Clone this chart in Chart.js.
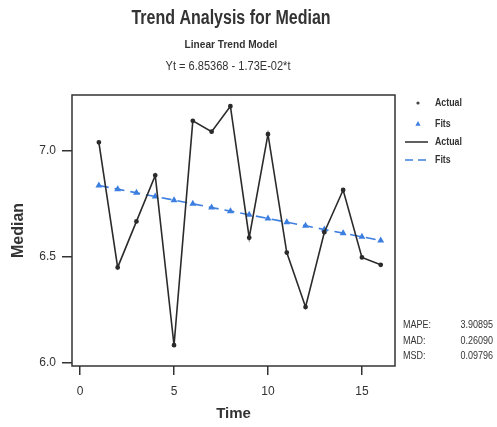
<!DOCTYPE html>
<html>
<head>
<meta charset="utf-8">
<script src="https://cdn.jsdelivr.net/npm/chart.js@4/dist/chart.umd.min.js"></script>
<style>
  html, body { margin: 0; padding: 0; background: #fff; }
  #wrap { width: 497px; height: 427px; position: relative; }
</style>
</head>
<body>
<div id="wrap"><canvas id="trend"></canvas></div>
<script>
// time index and observed medians
const times = [1, 2, 3, 4, 5, 6, 7, 8, 9, 10, 11, 12, 13, 14, 15, 16];
const actual = [7.04, 6.45, 6.667, 6.884, 6.083, 7.141, 7.09, 7.21, 6.59, 7.078, 6.52, 6.263, 6.616, 6.815, 6.497, 6.462];
// fitted values of Yt = 6.85368 - 1.73E-02*t
const fits = [6.83638, 6.81908, 6.80178, 6.78448, 6.76718, 6.74988, 6.73258, 6.71528,
              6.69798, 6.68068, 6.66338, 6.64608, 6.62878, 6.61148, 6.59418, 6.57688];

const xTicks = [0, 5, 10, 15];
const yTicks = [6.0, 6.5, 7.0];

const titleLines = ["Trend Analysis for Median", "Linear Trend Model", "Yt = 6.85368 - 1.73E-02*t"];
const legendLabels = ["Actual", "Fits", "Actual", "Fits"];
const statNames = ["MAPE:", "MAD:", "MSD:"];
const statValues = ["3.90895", "0.26090", "0.09796"];

const FONT = '"Liberation Sans", Arial, sans-serif';
const INK = "#2b2b2b";
const BLUE = "#3d7fe0";

const pairs = (ys) => times.map((t, i) => ({ x: t, y: ys[i] }));

// narrow text: squeeze horizontally around the anchor point
function narrowText(ctx, text, x, y, squeeze) {
  ctx.save();
  ctx.translate(x, y);
  ctx.scale(squeeze, 1);
  ctx.fillText(text, 0, 0);
  ctx.restore();
}

// header, frame, legend box and accuracy measures
const decorations = {
  id: "decorations",
  afterDraw(chart) {
    const ctx = chart.ctx;
    const a = chart.chartArea;
    ctx.save();

    ctx.strokeStyle = "#333";
    ctx.lineWidth = 1.5;
    ctx.strokeRect(a.left, a.top, a.right - a.left, a.bottom - a.top);

    ctx.fillStyle = "#333";
    ctx.textAlign = "center";
    ctx.textBaseline = "middle";
    ctx.font = "bold 20px " + FONT;
    narrowText(ctx, titleLines[0], 231, 18, 0.8);
    ctx.font = "bold 11px " + FONT;
    narrowText(ctx, titleLines[1], 231, 45, 0.92);
    ctx.font = "12px " + FONT;
    narrowText(ctx, titleLines[2], 228, 67, 0.92);

    // legend
    ctx.textAlign = "left";
    ctx.font = "bold 10px " + FONT;
    const mx = 418;
    const rows = [103, 124, 142, 160];
    rows.forEach((y, i) => narrowText(ctx, legendLabels[i], 435, y, 0.88));

    ctx.fillStyle = "#444";
    ctx.beginPath();
    ctx.arc(mx, rows[0], 1.6, 0, Math.PI * 2);
    ctx.fill();

    ctx.fillStyle = BLUE;
    ctx.beginPath();
    ctx.moveTo(mx, rows[1] - 3);
    ctx.lineTo(mx + 2.6, rows[1] + 1.8);
    ctx.lineTo(mx - 2.6, rows[1] + 1.8);
    ctx.closePath();
    ctx.fill();

    ctx.strokeStyle = INK;
    ctx.lineWidth = 1.5;
    ctx.beginPath();
    ctx.moveTo(405, rows[2]);
    ctx.lineTo(428, rows[2]);
    ctx.stroke();

    ctx.strokeStyle = BLUE;
    ctx.setLineDash([8, 5]);
    ctx.beginPath();
    ctx.moveTo(405, rows[3]);
    ctx.lineTo(428, rows[3]);
    ctx.stroke();
    ctx.setLineDash([]);

    // accuracy measures
    ctx.fillStyle = "#333";
    ctx.font = "10px " + FONT;
    const sy = [325, 341, 356];
    statNames.forEach((n, i) => {
      ctx.textAlign = "left";
      narrowText(ctx, n, 403, sy[i], 0.9);
      ctx.textAlign = "right";
      narrowText(ctx, statValues[i], 493, sy[i], 0.9);
    });

    ctx.restore();
  }
};

new Chart(document.getElementById("trend"), {
  type: "line",
  data: {
    datasets: [
      {
        label: "Actual",
        data: pairs(actual),
        borderColor: INK,
        backgroundColor: INK,
        borderWidth: 1.6,
        pointRadius: 1.6,
        pointStyle: "circle",
        tension: 0
      },
      {
        label: "Fits",
        data: pairs(fits),
        borderColor: BLUE,
        backgroundColor: BLUE,
        borderWidth: 1.6,
        borderDash: [10, 6],
        pointStyle: "triangle",
        pointRadius: 2.4,
        tension: 0
      }
    ]
  },
  options: {
    responsive: true,
    maintainAspectRatio: false,
    animation: false,
    layout: { padding: { left: 0, top: 95, right: 102, bottom: 0 } },
    plugins: {
      legend: { display: false },
      tooltip: { enabled: false }
    },
    scales: {
      x: {
        type: "linear",
        min: -0.43,
        max: 16.76,
        afterBuildTicks: (s) => { s.ticks = xTicks.map(v => ({ value: v })); },
        afterFit: (s) => { s.height = 61; },
        grid: { display: true, drawOnChartArea: false, drawTicks: true, tickLength: 9, color: "#333", lineWidth: 1.5 },
        border: { display: false },
        ticks: { color: "#333", font: { family: FONT, size: 12 }, padding: 9, maxRotation: 0 },
        title: { display: true, text: "Time", color: "#333", font: { family: FONT, size: 15, weight: "bold" }, padding: { top: 0 } }
      },
      y: {
        min: 5.985,
        max: 7.263,
        afterBuildTicks: (s) => { s.ticks = yTicks.map(v => ({ value: v })); },
        afterFit: (s) => { s.width = 72; },
        grid: { display: true, drawOnChartArea: false, drawTicks: true, tickLength: 10, color: "#333", lineWidth: 1.5 },
        border: { display: false },
        ticks: { color: "#333", font: { family: FONT, size: 12 }, padding: 6, callback: (v) => v.toFixed(1) },
        title: { display: true, text: "Median", color: "#333", font: { family: FONT, size: 16, weight: "bold" }, padding: { top: 9, bottom: 0 } }
      }
    }
  },
  plugins: [decorations]
});
</script>
</body>
</html>
